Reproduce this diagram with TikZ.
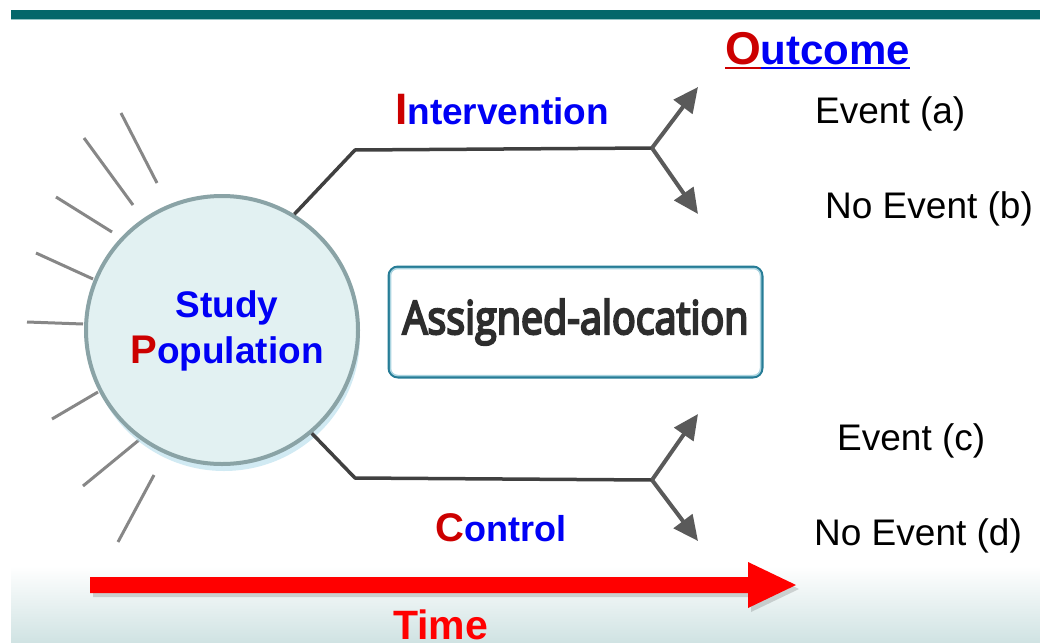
\documentclass[tikz,border=0pt]{standalone}
\usepackage{fontspec}
\setmainfont{Liberation Sans}
\newfontfamily\boxfont[FakeBold=5]{Open Sans}
\usetikzlibrary{arrows.meta,shapes.geometric,calc}

\definecolor{barteal}{RGB}{4,103,106}
\definecolor{barlight}{RGB}{150,196,196}
\definecolor{floorteal}{RGB}{208,227,227}
\definecolor{rimgray}{RGB}{138,163,166}
\definecolor{popfill}{RGB}{226,241,242}
\definecolor{popshade}{RGB}{190,225,238}
\definecolor{raygray}{RGB}{135,135,135}
\definecolor{trunkgray}{RGB}{64,64,64}
\definecolor{branchgray}{RGB}{90,90,90}
\definecolor{boxteal}{RGB}{38,124,150}
\definecolor{boxinner}{RGB}{170,212,224}
\definecolor{boxtext}{RGB}{45,45,45}
\definecolor{initred}{RGB}{204,0,0}
\definecolor{wordblue}{RGB}{0,0,245}
\definecolor{timered}{RGB}{255,0,0}

% rule under a piece of text, in the current colour
\newcommand\ulcol[1]{\setbox0\hbox{#1}\rlap{\rule[-5pt]{\wd0}{2pt}}\box0}

\begin{document}
\begin{tikzpicture}[x=1pt,y=-1pt,
  ray/.style={draw=raygray,line width=3pt},
  trunk/.style={draw=trunkgray,line width=3.5pt,line join=round},
  branch/.style={draw=branchgray,line width=4pt,-{Triangle[length=25pt,width=23pt]}},
  popnode/.style={ellipse,minimum width=272pt,minimum height=268pt,
    draw=rimgray,line width=4pt,fill=popfill,inner sep=0pt},
  allocbox/.style={rectangle,rounded corners=9pt,minimum width=373pt,
    minimum height=110pt,draw=boxteal,line width=3pt,fill=white,
    text=boxtext,inner sep=0pt},
  headword/.style={anchor=base west,inner sep=0pt,font=\bfseries,text=wordblue},
  outcome/.style={anchor=base west,inner sep=0pt,
    font=\fontsize{37}{37}\selectfont,text=black},
]
\useasboundingbox (0,0) rectangle (1040,642);

% top rule and floor gradient
\fill[barteal] (11,10) rectangle (1040,19);
\fill[barlight] (11,19) rectangle (1040,20.5);
\shade[top color=white,bottom color=floorteal] (11,566) rectangle (1040,642);

% rays around the population
\foreach \xa/\ya/\xb/\yb in {121/113/157/183, 84/138/133/205, 56/197/112/232,
  36/253/93/279, 27/322/83/324, 52/419/98/392, 83/486/139/440, 118/542/154/475}
  \draw[ray] (\xa,\ya) -- (\xb,\yb);

% study population
\fill[popshade,opacity=0.7] (224,337) ellipse (136pt and 134pt);
\node[popnode] (pop) at (222,330) {};
\node[align=center,font=\bfseries\fontsize{37}{46}\selectfont,text=wordblue,inner sep=0pt]
  (poptext) at (227,330.5)
  {Study\\{\fontsize{40}{46}\selectfont\color{initred}P}opulation};

% branch points and arrow ends
\coordinate (c1) at (355,150);
\coordinate (j1) at (652,148);
\coordinate (a1) at (698,87);
\coordinate (b1) at (698,214);
\coordinate (c2) at (355,478);
\coordinate (j2) at (652,480);
\coordinate (a2) at (698,414);
\coordinate (b2) at (698,541);

\draw[trunk] (pop.58) -- (c1) -- (j1);
\draw[branch] (j1) -- (a1);
\draw[branch] (j1) -- (b1);
\draw[trunk] (pop.-49) -- (c2) -- (j2);
\draw[branch] (j2) -- (a2);
\draw[branch] (j2) -- (b2);

% allocation box
\node[allocbox] (alloc) at (575.5,322)
  {\resizebox{346pt}{35pt}{\boxfont Assigned-alocation}};
\draw[boxinner,line width=1.5pt,rounded corners=7pt]
  ($(alloc.north west)+(3,3)$) rectangle ($(alloc.south east)+(-3,-3)$);

% labels
\node[headword] (outc) at (725,64)
  {\color{initred}\ulcol{\fontsize{46}{46}\selectfont O}\color{wordblue}\ulcol{\fontsize{42}{42}\selectfont utcome}};
\node[headword] (interv) at (395,124)
  {{\fontsize{44}{44}\selectfont\color{initred}I}\fontsize{37}{37}\selectfont ntervention};
\node[headword] (ctrl) at (435,541)
  {{\fontsize{40}{40}\selectfont\color{initred}C}\fontsize{36}{36}\selectfont ontrol};

\node[outcome] (ea) at (815,123) {Event (a)};
\node[outcome] (nb) at (825,218) {No Event (b)};
\node[outcome] (ec) at (837,450) {Event (c)};
\node[outcome] (nd) at (814,545) {No Event (d)};

% time arrow
\fill[black,opacity=0.15] (93,581) -- (751,581) -- (751,566) -- (799,589)
  -- (751,612) -- (751,597) -- (93,597) -- cycle;
\fill[timered] (90,577) -- (748,577) -- (748,562) -- (796,585)
  -- (748,608) -- (748,593) -- (90,593) -- cycle;
\node[anchor=base west,inner sep=0pt,font=\bfseries\fontsize{41}{41}\selectfont,
  text=timered] (time) at (393,639) {Time};
\end{tikzpicture}
\end{document}
